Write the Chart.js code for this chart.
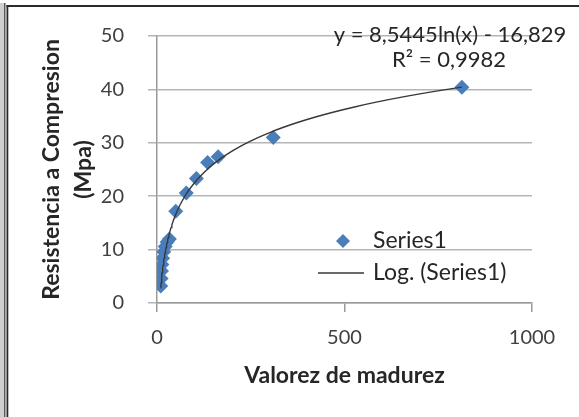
<!DOCTYPE html>
<html>
<head>
<meta charset="utf-8">
<script src="https://cdn.jsdelivr.net/npm/chart.js@4.4.1/dist/chart.umd.min.js"></script>
<style>
  html, body { margin: 0; padding: 0; background: #fff; }
  #wrap { position: relative; width: 579px; height: 417px; }
  canvas { display: block; }
</style>
</head>
<body>
<div id="wrap"><canvas id="c" width="579" height="417"></canvas></div>
<script>
// ---- data ----
const madurez = [10, 11, 12, 13, 15, 18, 22, 27, 33, 50, 78, 105, 135, 163, 310, 813];
const resistencia = [3.2, 4.6, 6.0, 7.2, 8.4, 9.6, 10.6, 11.4, 12.0, 17.2, 20.6, 23.3, 26.3, 27.4, 31.0, 40.4];
const seriesName = 'Series1';
const trendName = 'Log. (Series1)';
const trendA = 8.5445;     // y = A ln(x) + B  (coefficients shown on the chart)
const trendB = -16.829;
const equationText = 'y = 8,5445ln(x) - 16,829';
const r2Text = 'R² = 0,9982';
const xTicks = [0, 500, 1000];
const yTicks = [0, 10, 20, 30, 40, 50];
const xTitle = 'Valorez de madurez';
const yTitle = ['Resistencia a Compresion', '(Mpa)'];

// scatter points
const points = madurez.map((x, i) => ({ x: x, y: resistencia[i] }));
// logarithmic trendline over the data range, from the displayed coefficients
const xMin = Math.min(...madurez), xMax = Math.max(...madurez);
const trend = [];
const nT = 80;
for (let i = 0; i <= nT; i++) {
  const x = xMin * Math.pow(xMax / xMin, i / nT);
  trend.push({ x: x, y: trendA * Math.log(x) + trendB });
}

const FONT = 'Lato, "Open Sans", sans-serif';
const BLUE = '#4a7ebb';

const framePlugin = {
  id: 'frame',
  beforeDraw(chart) {
    const ctx = chart.ctx;
    ctx.save();
    ctx.fillStyle = '#fff';
    ctx.fillRect(0, 0, chart.width, chart.height);
    ctx.fillStyle = '#d0d0d0';
    ctx.fillRect(0, 3, 4, chart.height - 3);
    ctx.fillStyle = '#5a5a5a';
    ctx.fillRect(4, 3, 1.5, chart.height - 3);
    ctx.fillStyle = '#2a2a2a';
    ctx.fillRect(6.5, 5, 1.8, chart.height - 5);
    ctx.fillRect(6.5, 5, chart.width - 6.5, 2);
    ctx.restore();
  }
};

const legendPlugin = {
  id: 'insideLegend',
  afterDraw(chart) {
    const ctx = chart.ctx;
    const ds0 = chart.data.datasets[0];
    const ds1 = chart.data.datasets[1];
    ctx.save();
    ctx.font = '23px ' + FONT;
    ctx.textBaseline = 'middle';
    ctx.textAlign = 'left';
    const mx = 343, my1 = 241, tx = 373, my2 = 273;
    const r = 7;
    ctx.fillStyle = ds0.backgroundColor;
    ctx.beginPath();
    ctx.moveTo(mx, my1 - r); ctx.lineTo(mx + r, my1); ctx.lineTo(mx, my1 + r); ctx.lineTo(mx - r, my1);
    ctx.closePath(); ctx.fill();
    ctx.fillStyle = '#262626';
    ctx.fillText(ds0.label, tx, my1);
    ctx.strokeStyle = ds1.borderColor;
    ctx.lineWidth = 1.4;
    ctx.beginPath(); ctx.moveTo(318, my2); ctx.lineTo(364, my2); ctx.stroke();
    ctx.fillText(ds1.label, tx, my2);
    ctx.font = '22px ' + FONT;
    ctx.textAlign = 'center';
    ctx.fillText(equationText, 450, 35);
    ctx.fillText(r2Text, 449, 60);
    ctx.restore();
  }
};

new Chart(document.getElementById('c'), {
  data: {
    datasets: [
      {
        type: 'scatter',
        label: seriesName,
        data: points,
        pointStyle: 'rectRot',
        pointRadius: 7.5,
        pointHoverRadius: 7.5,
        backgroundColor: BLUE,
        borderColor: BLUE,
        borderWidth: 0,
        order: 2
      },
      {
        type: 'line',
        label: trendName,
        data: trend,
        borderColor: '#383838',
        borderWidth: 1.4,
        pointRadius: 0,
        fill: false,
        tension: 0,
        order: 1
      }
    ]
  },
  options: {
    responsive: false,
    animation: false,
    devicePixelRatio: 1,
    layout: { padding: { left: 12, right: 47, top: 36, bottom: 0 } },
    plugins: { legend: { display: false }, tooltip: { enabled: false } },
    scales: {
      x: {
        type: 'linear',
        min: 0, max: 1000,
        afterBuildTicks(s) { s.ticks = xTicks.map(v => ({ value: v })); },
        afterFit(s) { s.height = 114; },
        grid: { display: true, drawOnChartArea: false, drawTicks: true, tickLength: 9, color: '#9a9a9a', lineWidth: 1.5 },
        border: { display: true, color: '#9a9a9a', width: 1.5 },
        ticks: { font: { family: FONT, size: 20 }, color: '#404040', padding: 14, maxRotation: 0, callback: v => String(v) },
        title: { display: true, text: xTitle, font: { family: FONT, size: 23, weight: 'bold' }, color: '#262626', padding: { top: 0, bottom: 28 } }
      },
      y: {
        type: 'linear',
        min: 0, max: 50,
        afterBuildTicks(s) { s.ticks = yTicks.map(v => ({ value: v })); },
        afterFit(s) { s.width = 145; },
        grid: { color: '#b5b5b5', lineWidth: 1.5, drawTicks: true, tickLength: 9 },
        border: { display: true, color: '#9a9a9a', width: 1.5 },
        ticks: { font: { family: FONT, size: 20 }, color: '#404040', padding: 24, callback: v => String(v) },
        title: { display: true, text: yTitle, font: { family: FONT, size: 23, weight: 'bold', lineHeight: 1.4 }, color: '#262626', padding: { top: 23, bottom: 0 } }
      }
    }
  },
  plugins: [framePlugin, legendPlugin]
});
</script>
</body>
</html>
